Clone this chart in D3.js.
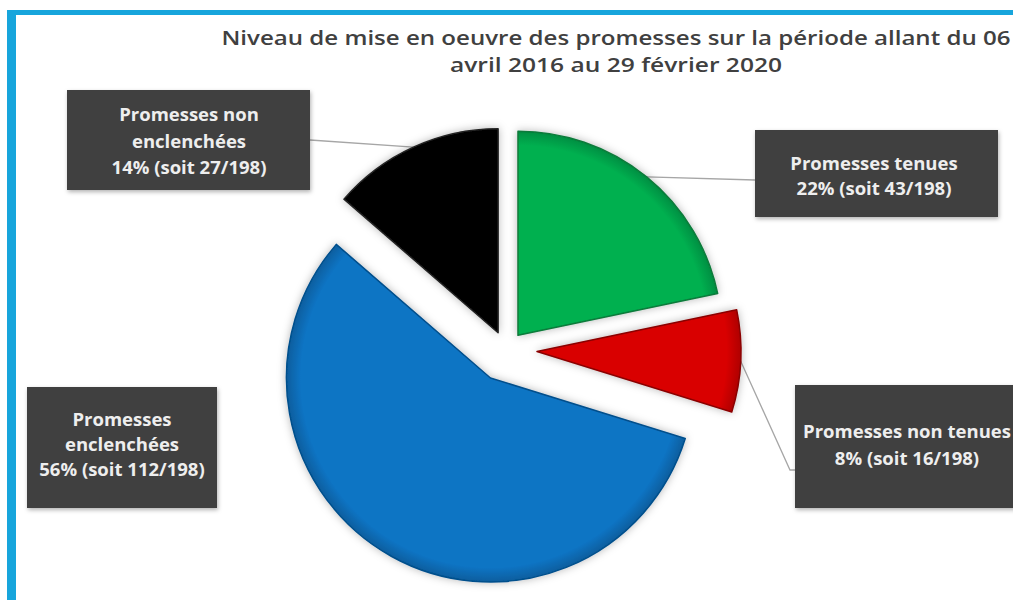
<!DOCTYPE html>
<html>
<head>
<meta charset="utf-8">
<script src="https://cdn.jsdelivr.net/npm/d3@7"></script>
<style>
  html, body { margin: 0; padding: 0; background: #fff; }
  svg { display: block; }
</style>
</head>
<body>
<svg id="chart" width="1013" height="600"></svg>
<script>
// ---- data ----
const categories = ["Promesses tenues", "Promesses non tenues", "Promesses enclenchées", "Promesses non enclenchées"];
const values = [43, 16, 112, 27];
const total = 198;
const pctLabels = ["22%", "8%", "56%", "14%"];
const labelLines = [
  ["Promesses tenues", "22%  (soit 43/198)"],
  ["Promesses non tenues", "8%  (soit 16/198)"],
  ["Promesses", "enclenchées", "56% (soit 112/198)"],
  ["Promesses non", "enclenchées", "14% (soit 27/198)"]
];
const titleLines = ["Niveau de mise en oeuvre des promesses sur la période allant du 06", "avril 2016 au 29 février 2020"];

// ---- styles / layout ----
const colors = ["#00b050", "#d90000", "#0a74c4", "#000000"];
const edgeColors = ["#0a7a3a", "#8a0000", "#064f8c", "#222222"];
const explode = [19, 31, 32, 19];
const cx = 506, cy = 350, R = 204;
// label boxes: [x, y, w, h, textCenterX, firstBaseline, lineStep]
const boxes = [
  [755, 130, 243, 87, 874, 170, 25],
  [795, 385, 240, 123, 907, 438, 27],
  [27, 387, 190, 121, 122, 426, 25],
  [67, 90, 243, 100, 189, 121, 26.5]
];
// leader line end points (box side) + optional elbow
const leaderEnds = [
  [[755, 180]],
  [[790, 470], [795, 470]],
  null,
  [[310, 140]]
];

const svg = d3.select("#chart");
const defs = svg.append("defs");
const sh = defs.append("filter").attr("id", "shadow").attr("x", "-20%").attr("y", "-20%").attr("width", "140%").attr("height", "140%");
sh.append("feDropShadow").attr("dx", 0).attr("dy", 0).attr("stdDeviation", 4).attr("flood-color", "#000").attr("flood-opacity", 0.28);
const sh2 = defs.append("filter").attr("id", "boxshadow").attr("x", "-10%").attr("y", "-10%").attr("width", "120%").attr("height", "130%");
sh2.append("feDropShadow").attr("dx", 1).attr("dy", 2).attr("stdDeviation", 2).attr("flood-color", "#000").attr("flood-opacity", 0.3);

// gradients for slight bevel look
colors.forEach((c, i) => {
  const g = defs.append("radialGradient").attr("id", "grad" + i)
    .attr("gradientUnits", "userSpaceOnUse").attr("cx", 0).attr("cy", 0).attr("r", R);
  g.append("stop").attr("offset", "0%").attr("stop-color", c);
  g.append("stop").attr("offset", "93%").attr("stop-color", c);
  g.append("stop").attr("offset", "100%").attr("stop-color", d3.color(c).darker(0.6));
});

// border
svg.append("rect").attr("x", 7).attr("y", 10).attr("width", 1006).attr("height", 5).attr("fill", "#17a5dc");
svg.append("rect").attr("x", 7).attr("y", 10).attr("width", 9).attr("height", 590).attr("fill", "#17a5dc");

// title
const title = svg.append("g");
title.append("text").attr("x", 616).attr("y", 45).attr("text-anchor", "middle")
  .attr("textLength", 789).attr("lengthAdjust", "spacingAndGlyphs")
  .style("font-family", "'Open Sans', sans-serif").style("font-weight", 600).style("font-size", "20px").attr("fill", "#404040")
  .text(titleLines[0]);
title.append("text").attr("x", 616).attr("y", 72).attr("text-anchor", "middle")
  .attr("textLength", 332).attr("lengthAdjust", "spacingAndGlyphs")
  .style("font-family", "'Open Sans', sans-serif").style("font-weight", 600).style("font-size", "20px").attr("fill", "#404040")
  .text(titleLines[1]);

// pie
const pie = d3.pie().sort(null).value(d => d)(values);
const arc = d3.arc().innerRadius(0).outerRadius(R);

const offset = (d, i) => {
  const m = (d.startAngle + d.endAngle) / 2;
  return [cx + explode[i] * Math.sin(m), cy - explode[i] * Math.cos(m)];
};

// leader lines (behind slices)
const leaders = svg.append("g");
pie.forEach((d, i) => {
  if (!leaderEnds[i]) return;
  const [ox, oy] = offset(d, i);
  const m = (d.startAngle + d.endAngle) / 2;
  const start = [ox + R * Math.sin(m), oy - R * Math.cos(m)];
  const pts = [start].concat(leaderEnds[i]);
  leaders.append("path").attr("d", d3.line()(pts)).attr("fill", "none")
    .attr("stroke", "#a6a6a6").attr("stroke-width", 1.3);
});

const slices = svg.append("g").attr("filter", "url(#shadow)");
slices.selectAll("path").data(pie).join("path")
  .attr("transform", (d, i) => `translate(${offset(d, i)})`)
  .attr("d", arc)
  .attr("fill", (d, i) => `url(#grad${i})`)
  .attr("stroke", (d, i) => edgeColors[i])
  .attr("stroke-width", 1.5)
  .attr("stroke-linejoin", "round");

// label boxes
const lab = svg.append("g");
boxes.forEach((b, i) => {
  const g = lab.append("g");
  g.append("rect").attr("x", b[0]).attr("y", b[1]).attr("width", b[2]).attr("height", b[3])
    .attr("fill", "#404040").attr("filter", "url(#boxshadow)");
  labelLines[i].forEach((t, k) => {
    g.append("text").attr("x", b[4]).attr("y", b[5] + k * b[6]).attr("text-anchor", "middle")
      .style("font-family", "'Open Sans', sans-serif").style("font-weight", 700).style("font-size", "18.5px")
      .attr("fill", "#eeeeee").text(t);
  });
});
</script>
</body>
</html>
